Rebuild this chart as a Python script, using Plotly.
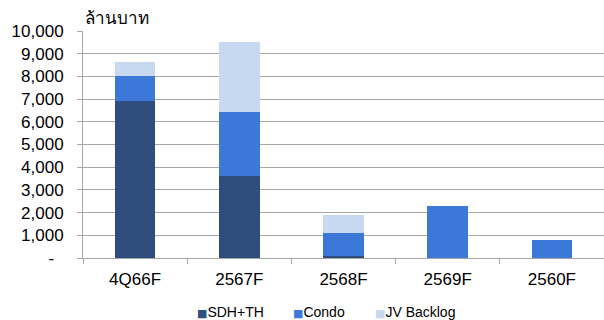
import plotly.graph_objects as go

categories = ["4Q66F", "2567F", "2568F", "2569F", "2560F"]
sdh_th = [6900, 3600, 100, 0, 0]
condo = [1100, 2850, 1000, 2300, 780]
jv_backlog = [650, 3050, 800, 0, 0]

y_ticks = [0, 1000, 2000, 3000, 4000, 5000, 6000, 7000, 8000, 9000, 10000]
y_tick_text = ["-\u00a0\u00a0"] + [f"{v:,}" for v in y_ticks[1:]]

font_family = "Liberation Sans, Arial, sans-serif"

series = [
    ("SDH+TH", sdh_th, "#2F4D7D"),
    ("Condo", condo, "#3C78D8"),
    ("JV Backlog", jv_backlog, "#C6D9F0"),
]

fig = go.Figure()
for name, vals, color in series:
    fig.add_trace(go.Bar(
        x=categories, y=vals, name=name, showlegend=False,
        marker=dict(color=color, line=dict(width=0)),
    ))

# Legend row drawn as text entries beneath the axis
legend_x = [0.215, 0.399, 0.557]
legend_items = []
for (name, _, color), lx in zip(series, legend_x):
    legend_items.append(dict(
        text=(f"<span style='color:{color};font-size:11px;"
              f"font-family:DejaVu Sans'>■</span>{name}"),
        xref="paper", yref="paper", x=lx, y=-0.238,
        xanchor="left", yanchor="middle", showarrow=False,
        font=dict(size=14, family=font_family, color="#000000"),
    ))

fig.update_layout(
    barmode="stack",
    bargap=0.61,
    width=604, height=320,
    margin=dict(l=83, r=0, t=31, b=62),
    paper_bgcolor="white",
    plot_bgcolor="white",
    font=dict(family=font_family, color="#000000"),
    showlegend=False,
    xaxis=dict(
        type="category",
        showline=True, linecolor="#A6A6A6", linewidth=1,
        ticks="outside", tickson="boundaries", ticklen=5,
        tickcolor="#A6A6A6",
        tickfont=dict(size=17, family=font_family),
        ticklabelstandoff=6,
        showgrid=False,
    ),
    yaxis=dict(
        range=[0, 10000],
        tickvals=y_ticks, ticktext=y_tick_text,
        tickfont=dict(size=17, family=font_family),
        ticklabelstandoff=10,
        showgrid=True, gridcolor="#A6A6A6", gridwidth=1,
        showline=True, linecolor="#A6A6A6", linewidth=1,
        ticks="outside", ticklen=5, tickcolor="#A6A6A6",
        zeroline=False,
    ),
    annotations=[dict(
        text="ล้านบาท", xref="paper", yref="paper",
        x=0, y=1, xanchor="left", yanchor="bottom",
        showarrow=False, font=dict(size=17, family=font_family),
        yshift=1,
    )] + legend_items,
)

fig.write_html("out.html")
